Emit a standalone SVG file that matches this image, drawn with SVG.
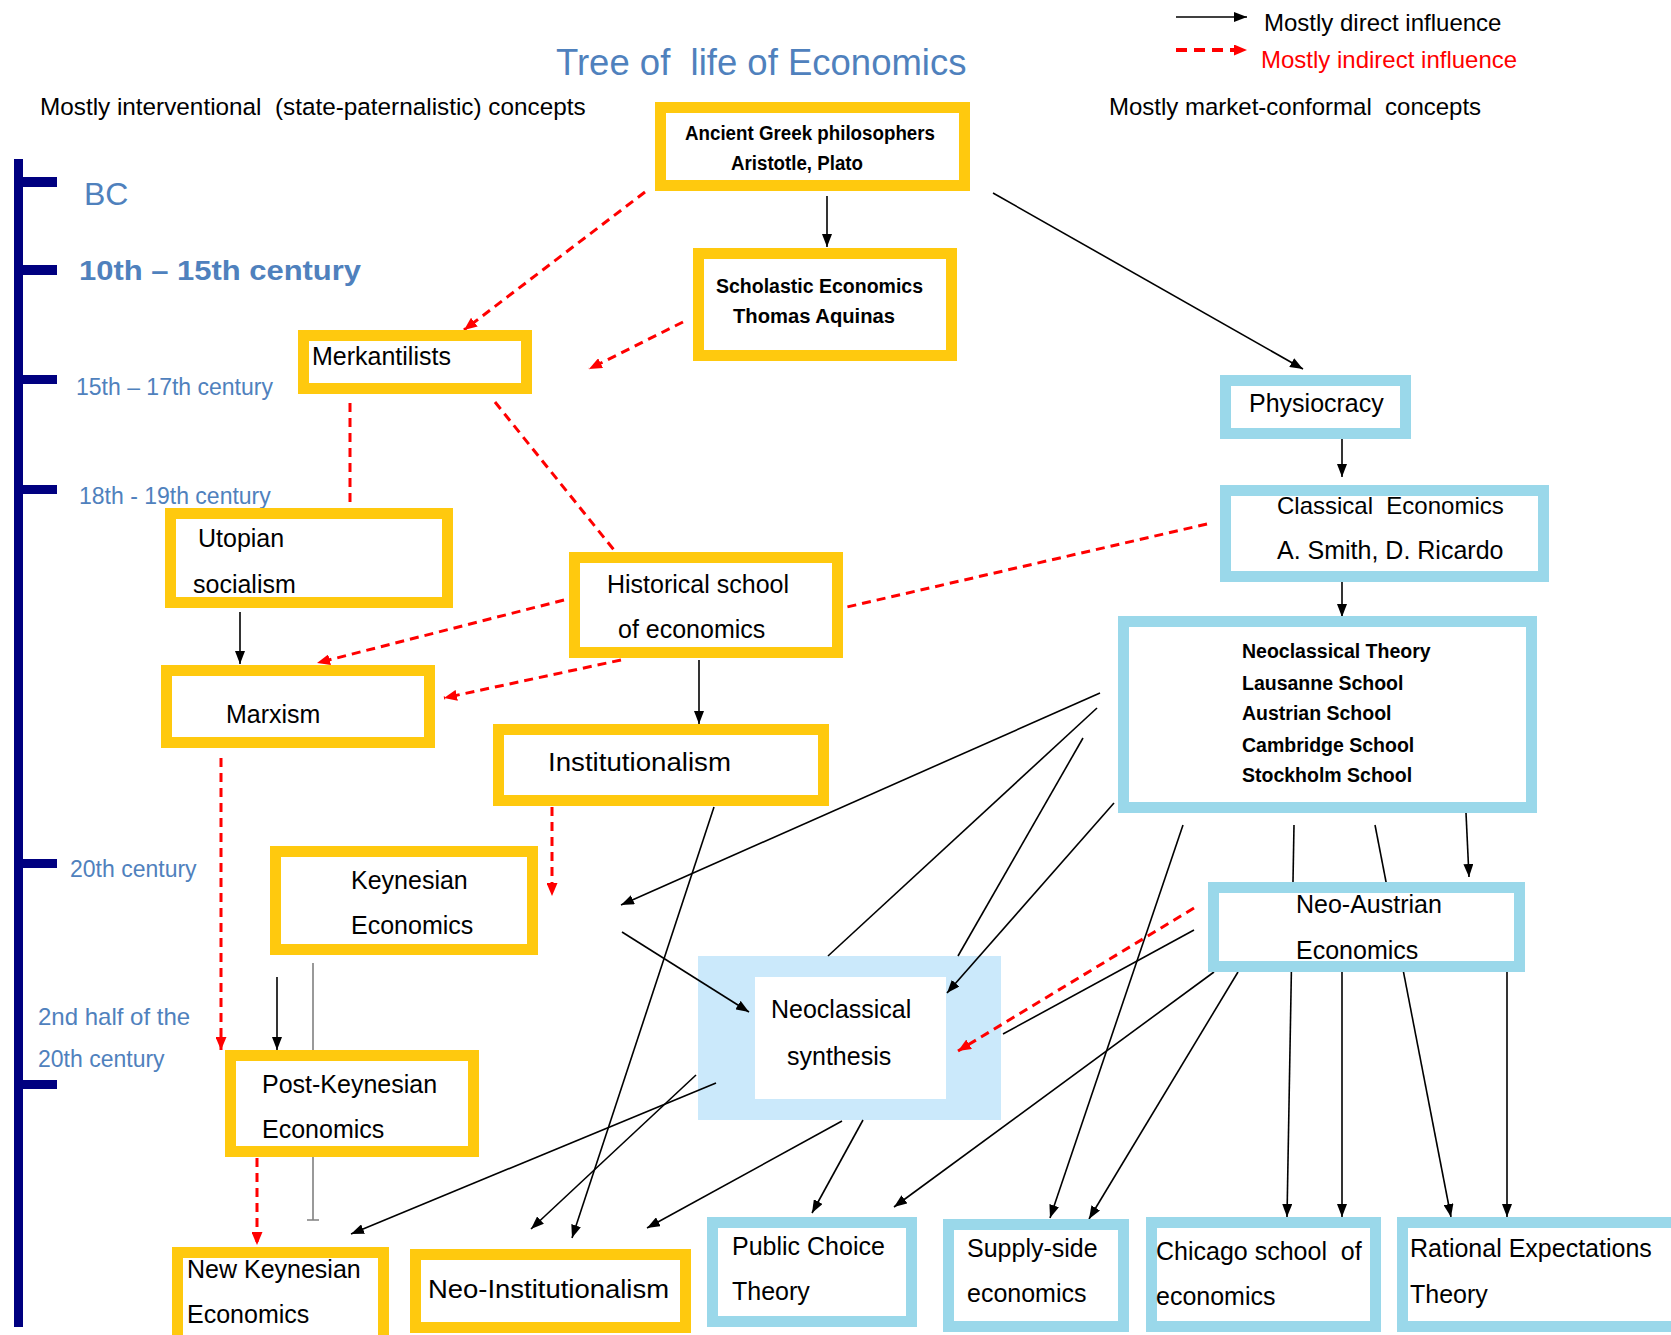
<svg xmlns="http://www.w3.org/2000/svg" width="1671" height="1335" viewBox="0 0 1671 1335">
<defs>
<style>
.y{fill:#fff;stroke:#FFC90E;stroke-width:11}
.b{fill:#fff;stroke:#9AD8EA;stroke-width:11}
text{font-family:"Liberation Sans",Arial,sans-serif;fill:#000}
.t{font-size:25px}
.tb{font-size:19.5px;font-weight:bold}
.lb{fill:#4F81BD}
.s{font-size:23px}
.k{stroke:#000;stroke-width:1.6;fill:none}
.ka{stroke:#000;stroke-width:1.6;fill:none;marker-end:url(#ab)}
.r{stroke:#f00;stroke-width:3;stroke-dasharray:9 6;fill:none}
.ra{stroke:#f00;stroke-width:3;stroke-dasharray:9 6;fill:none;marker-end:url(#ar)}
.tl{fill:#000080}
</style>
<marker id="ab" viewBox="0 0 13 10" refX="13" refY="5" markerWidth="13" markerHeight="10" markerUnits="userSpaceOnUse" orient="auto"><path d="M0,0 L13,5 L0,10 z" fill="#000"/></marker>
<marker id="ar" viewBox="0 0 13 11" refX="13" refY="5.5" markerWidth="13" markerHeight="11" markerUnits="userSpaceOnUse" orient="auto"><path d="M0,0 L13,5.5 L0,11 z" fill="#f00"/></marker>
</defs>
<rect width="1671" height="1335" fill="#fff"/>

<g id="title">
<text x="556" y="75" font-size="36.5" class="lb" xml:space="preserve">Tree of  life of Economics</text>
<text x="40" y="115" font-size="24.3" xml:space="preserve">Mostly interventional  (state-paternalistic) concepts</text>
<text x="1109" y="115" font-size="24" xml:space="preserve">Mostly market-conformal  concepts</text>
</g>

<g id="legend">
<line x1="1176" y1="17" x2="1247" y2="17" class="ka" stroke-width="2"/>
<line x1="1176" y1="50" x2="1247" y2="50" stroke="#f00" stroke-width="4" stroke-dasharray="11 7" marker-end="url(#ar)"/>
<text x="1264" y="31" font-size="24">Mostly direct influence</text>
<text x="1261" y="68" font-size="24" fill="#f00" style="fill:#f00">Mostly indirect influence</text>
</g>

<g id="timeline">
<rect class="tl" x="14" y="159" width="9" height="1168"/>
<rect class="tl" x="14" y="177" width="43" height="10"/>
<rect class="tl" x="14" y="265" width="43" height="10"/>
<rect class="tl" x="14" y="375" width="43" height="9"/>
<rect class="tl" x="14" y="485" width="43" height="9"/>
<rect class="tl" x="14" y="859" width="43" height="9"/>
<rect class="tl" x="14" y="1080" width="43" height="9"/>
<text x="84" y="205" font-size="32" class="lb">BC</text>
<text x="79" y="280" font-size="28" font-weight="bold" class="lb" textLength="282" lengthAdjust="spacingAndGlyphs">10th – 15th century</text>
<text x="76" y="395" class="s lb">15th – 17th century</text>
<text x="79" y="504" class="s lb">18th - 19th century</text>
<text x="70" y="877" class="s lb">20th century</text>
<text x="38" y="1025" font-size="24" class="lb">2nd half of the</text>
<text x="38" y="1067" class="s lb">20th century</text>
</g>

<g id="synthesis">
<rect x="698" y="956" width="303" height="164" fill="#CBE9FB"/>
<rect x="755" y="977" width="191" height="122" fill="#fff"/>
<text x="771" y="1018" class="t">Neoclassical</text>
<text x="787" y="1065" class="t">synthesis</text>
</g>

<g id="connectors">
<path class="ka" d="M827,196 L827,247"/>
<path class="ka" d="M993,193 L1303,369"/>
<path class="ka" d="M1342,439 L1342,477"/>
<path class="ka" d="M1342,582 L1342,617"/>
<path class="ka" d="M240,612 L240,664"/>
<path class="ka" d="M699,660 L699,724"/>
<path class="ka" d="M1100,693 L621,905"/>
<path class="ka" d="M622,932 L749,1012"/>
<path class="k" d="M1097,708 L828,956"/>
<path class="k" d="M1083,738 L958,956"/>
<path class="ka" d="M1114,803 L947,993"/>
<path class="ka" d="M1183,825 L1050,1218"/>
<path class="ka" d="M1294,825 L1287,1217"/>
<path class="ka" d="M1375,825 L1451,1217"/>
<path class="ka" d="M1466,813 L1469,877"/>
<path class="k" d="M1194,930 L1003,1034"/>
<path class="ka" d="M1214,972 L894,1207"/>
<path class="ka" d="M1238,972 L1089,1219"/>
<path class="ka" d="M1342,972 L1342,1217"/>
<path class="ka" d="M1507,972 L1507,1217"/>
<path class="ka" d="M714,807 L572,1238"/>
<path class="ka" d="M696,1075 L531,1229"/>
<path class="ka" d="M716,1083 L351,1234"/>
<path class="ka" d="M842,1121 L647,1228"/>
<path class="ka" d="M863,1120 L812,1213"/>
<path class="ka" d="M277,977 L277,1050"/>
<path d="M313,963 L313,1050 M313,1157 L313,1220 M307,1220 L319,1220" stroke="#808080" stroke-width="1.6" fill="none"/>
<path class="ra" d="M645,192 L464,330"/>
<path class="ra" d="M683,322 L589,369"/>
<path class="r" d="M350,403 L350,512"/>
<path class="r" d="M495,402 L622,560"/>
<path class="r" d="M1207,524 L847,607"/>
<path class="ra" d="M564,600 L317,663"/>
<path class="ra" d="M621,660 L444,698"/>
<path class="ra" d="M221,758 L221,1050"/>
<path class="ra" d="M552,807 L552,896"/>
<path class="ra" d="M257,1158 L257,1245"/>
<path class="ra" d="M1194,908 L958,1051"/>
</g>

<g id="ancient">
<rect class="y" x="660.5" y="107.5" width="304" height="78"/>
<text x="685" y="140" class="tb" textLength="250" lengthAdjust="spacingAndGlyphs">Ancient Greek philosophers</text>
<text x="731" y="170" class="tb" textLength="132" lengthAdjust="spacingAndGlyphs">Aristotle, Plato</text>
</g>
<g id="scholastic">
<rect class="y" x="698.5" y="253.5" width="253" height="102"/>
<text x="716" y="293" class="tb" textLength="207" lengthAdjust="spacingAndGlyphs">Scholastic Economics</text>
<text x="733" y="323" class="tb" textLength="162" lengthAdjust="spacingAndGlyphs">Thomas Aquinas</text>
</g>
<g id="merkantilists">
<rect class="y" x="303.5" y="335.5" width="223" height="53"/>
<text x="312" y="365" class="t">Merkantilists</text>
</g>
<g id="physiocracy">
<rect class="b" x="1225.5" y="380.5" width="180" height="53"/>
<text x="1249" y="412" class="t">Physiocracy</text>
</g>
<g id="classical">
<rect class="b" x="1225.5" y="490.5" width="318" height="86"/>
<text x="1277" y="514" font-size="24" xml:space="preserve">Classical  Economics</text>
<text x="1277" y="559" class="t">A. Smith, D. Ricardo</text>
</g>
<g id="neoclassical-theory">
<rect class="b" x="1123.5" y="621.5" width="408" height="186"/>
<text x="1242" y="658" class="tb">Neoclassical Theory</text>
<text x="1242" y="690" class="tb">Lausanne School</text>
<text x="1242" y="720" class="tb">Austrian School</text>
<text x="1242" y="752" class="tb">Cambridge School</text>
<text x="1242" y="782" class="tb">Stockholm School</text>
</g>
<g id="utopian">
<rect class="y" x="170.5" y="513.5" width="277" height="89"/>
<text x="198" y="547" class="t">Utopian</text>
<text x="193" y="593" class="t">socialism</text>
</g>
<g id="historical">
<rect class="y" x="574.5" y="557.5" width="263" height="95"/>
<text x="607" y="593" class="t">Historical school</text>
<text x="618" y="638" class="t">of economics</text>
</g>
<g id="marxism">
<rect class="y" x="166.5" y="670.5" width="263" height="72"/>
<text x="226" y="723" class="t">Marxism</text>
</g>
<g id="institutionalism">
<rect class="y" x="498.5" y="729.5" width="325" height="71"/>
<text x="548" y="771" class="t" textLength="183" lengthAdjust="spacingAndGlyphs">Institutionalism</text>
</g>
<g id="keynesian">
<rect class="y" x="275.5" y="851.5" width="257" height="98"/>
<text x="351" y="889" class="t">Keynesian</text>
<text x="351" y="934" class="t">Economics</text>
</g>
<g id="neo-austrian">
<rect class="b" x="1213.5" y="887.5" width="306" height="79"/>
<text x="1296" y="913" class="t">Neo-Austrian</text>
<text x="1296" y="959" class="t">Economics</text>
</g>
<g id="post-keynesian">
<rect class="y" x="230.5" y="1055.5" width="243" height="96"/>
<text x="262" y="1093" class="t">Post-Keynesian</text>
<text x="262" y="1138" class="t">Economics</text>
</g>
<g id="new-keynesian">
<rect class="y" x="177.5" y="1252.5" width="206" height="95"/>
<text x="187" y="1278" class="t">New Keynesian</text>
<text x="187" y="1323" class="t">Economics</text>
</g>
<g id="neo-institutionalism">
<rect class="y" x="415.5" y="1254.5" width="270" height="73"/>
<text x="428" y="1298" class="t" textLength="241" lengthAdjust="spacingAndGlyphs">Neo-Institutionalism</text>
</g>
<g id="public-choice">
<rect class="b" x="712.5" y="1222.5" width="199" height="99"/>
<text x="732" y="1255" class="t">Public Choice</text>
<text x="732" y="1300" class="t">Theory</text>
</g>
<g id="supply-side">
<rect class="b" x="948.5" y="1224.5" width="175" height="102"/>
<text x="967" y="1257" class="t">Supply-side</text>
<text x="967" y="1302" class="t">economics</text>
</g>
<g id="chicago">
<rect class="b" x="1151.5" y="1222.5" width="224" height="104"/>
<text x="1156" y="1260" class="t" xml:space="preserve">Chicago school  of</text>
<text x="1156" y="1305" class="t">economics</text>
</g>
<g id="rational">
<rect class="b" x="1402.5" y="1222.5" width="290" height="104"/>
<text x="1410" y="1257" class="t">Rational Expectations</text>
<text x="1410" y="1303" class="t">Theory</text>
</g>
</svg>
